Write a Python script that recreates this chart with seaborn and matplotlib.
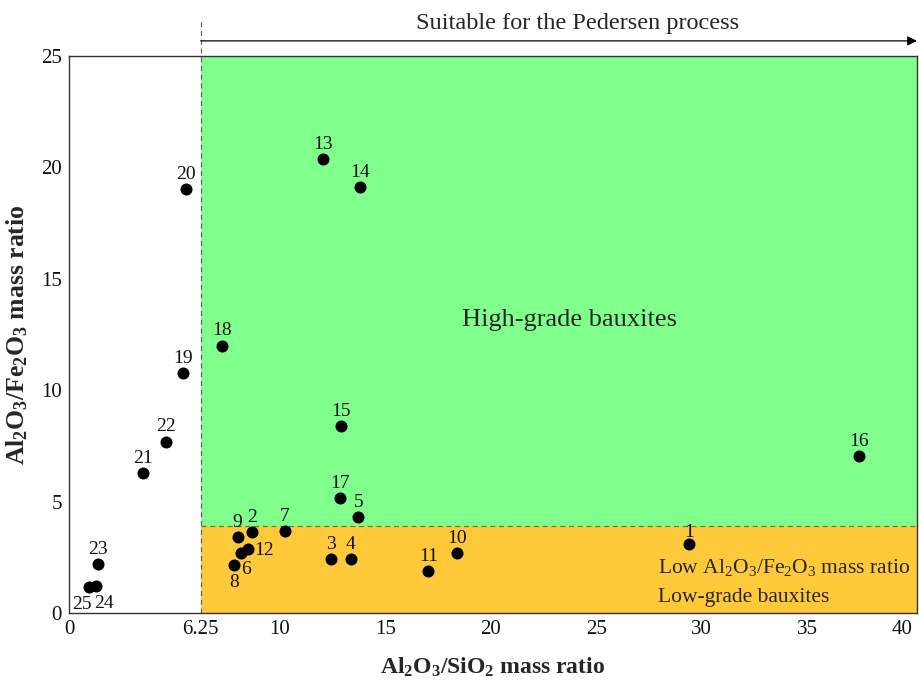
import matplotlib
matplotlib.use("Agg")
import matplotlib.pyplot as plt
import seaborn as sns
import pandas as pd
from matplotlib.patches import Rectangle

# Sample numbers and their mass ratios
sample_ids = [str(i) for i in range(1, 26)]
al_si = [29.4, 8.69, 12.4, 13.36, 13.72, 8.15, 10.24, 7.82, 8.02, 18.4,
         17.03, 8.5, 12.03, 13.8, 12.91, 37.43, 12.85, 7.27, 5.39, 5.55,
         3.49, 4.58, 1.39, 1.28, 0.96]
al_fe = [3.1, 3.62, 2.42, 2.42, 4.32, 2.69, 3.68, 2.15, 3.42, 2.68,
         1.9, 2.86, 20.38, 19.1, 8.39, 7.05, 5.15, 12.0, 10.76, 19.03,
         6.27, 7.69, 2.19, 1.2, 1.15]

# Label offsets (points) and alignment for each sample number
label_pos = {
    "6": ((4, -6), "center", "top"),
    "8": ((0, -6), "center", "top"),
    "12": ((4, -1), "left", "center"),
    "24": ((6, -6), "center", "top"),
    "25": ((-5, -6), "center", "top"),
    "1": ((0, 2), "center", "bottom"),
    "9": ((-1, 4), "center", "bottom"),
}

x_ticks = [0, 6.25, 10, 15, 20, 25, 30, 35, 40]
x_tick_labels = ["0", "6.25", "10", "15", "20", "25", "30", "35", "40"]
y_ticks = [0, 5, 10, 15, 20, 25]
pedersen_min = 6.25
fe_threshold = 3.9
x_max, y_max = 40.2, 25

df = pd.DataFrame({"sample": sample_ids, "al_si": al_si, "al_fe": al_fe})

sns.set_theme(style="white")
plt.rcParams["font.family"] = ["Liberation Serif", "DejaVu Serif"]
plt.rcParams["mathtext.default"] = "regular"

fig, ax = plt.subplots(figsize=(9.2, 6.82), dpi=100)
fig.subplots_adjust(left=0.075, right=0.9967, top=0.918, bottom=0.101)

# Coloured regions
ax.add_patch(Rectangle((pedersen_min, fe_threshold), x_max - pedersen_min,
                       y_max - fe_threshold, facecolor="#80FF8C",
                       edgecolor="none", zorder=0))
ax.add_patch(Rectangle((pedersen_min, 0), x_max - pedersen_min, fe_threshold,
                       facecolor="#FFC93A", edgecolor="none", zorder=0))
ax.plot([pedersen_min, x_max], [fe_threshold, fe_threshold],
        ls=(0, (4, 3)), color="#5a7a5a", lw=0.9, zorder=1)
ax.plot([pedersen_min, pedersen_min], [0, 1.068],
        transform=ax.get_xaxis_transform(), ls=(0, (4, 3)),
        color="#666666", lw=0.9, clip_on=False, zorder=1)

sns.scatterplot(data=df, x="al_si", y="al_fe", color="black", s=75,
                edgecolor="black", linewidth=0, ax=ax, zorder=3, legend=False)

for sid, xv, yv in zip(sample_ids, al_si, al_fe):
    off, ha, va = label_pos.get(sid, ((0, 4.5), "center", "bottom"))
    ax.annotate(sid, (xv, yv), xytext=off, textcoords="offset points",
                ha=ha, va=va, fontsize=14, color="#111111", zorder=4)

ax.text(23.75, 13.15, "High-grade bauxites", fontsize=19,
        ha="center", va="center")
ax.text(27.9, 2.06, "Low Al$_2$O$_3$/Fe$_2$O$_3$ mass ratio", fontsize=15.5,
        ha="left", va="center")
ax.text(27.9, 0.72, "Low-grade bauxites", fontsize=15.5,
        ha="left", va="center")

# Pedersen process arrow above the plot
ax.annotate("", xy=(1.0, 1.027), xycoords="axes fraction",
            xytext=(pedersen_min, 1.027), textcoords=("data", "axes fraction"),
            arrowprops=dict(arrowstyle="-|>", color="black", lw=0.9,
                            mutation_scale=14, shrinkA=0, shrinkB=0))
ax.text(0.6, 1.058, "Suitable for the Pedersen process", transform=ax.transAxes,
        ha="center", va="center", fontsize=17.5)

ax.set_xlim(0, x_max)
ax.set_ylim(0, y_max)
ax.set_xticks(x_ticks)
ax.set_xticklabels(x_tick_labels)
ax.set_yticks(y_ticks)
ax.tick_params(axis="both", length=0, labelsize=15, pad=5, colors="#111111")
# keep the last x tick label inside the figure
ax.get_xticklabels()[-1].set_horizontalalignment("right")
ax.set_xlabel("Al$_2$O$_3$/SiO$_2$ mass ratio", fontsize=17,
              fontweight="bold", labelpad=12)
ax.set_ylabel("Al$_2$O$_3$/Fe$_2$O$_3$ mass ratio", fontsize=18.5,
              fontweight="bold", labelpad=8)
for sp in ax.spines.values():
    sp.set_color("#333333")
    sp.set_linewidth(1.0)

fig.savefig("out.png", dpi=100)
